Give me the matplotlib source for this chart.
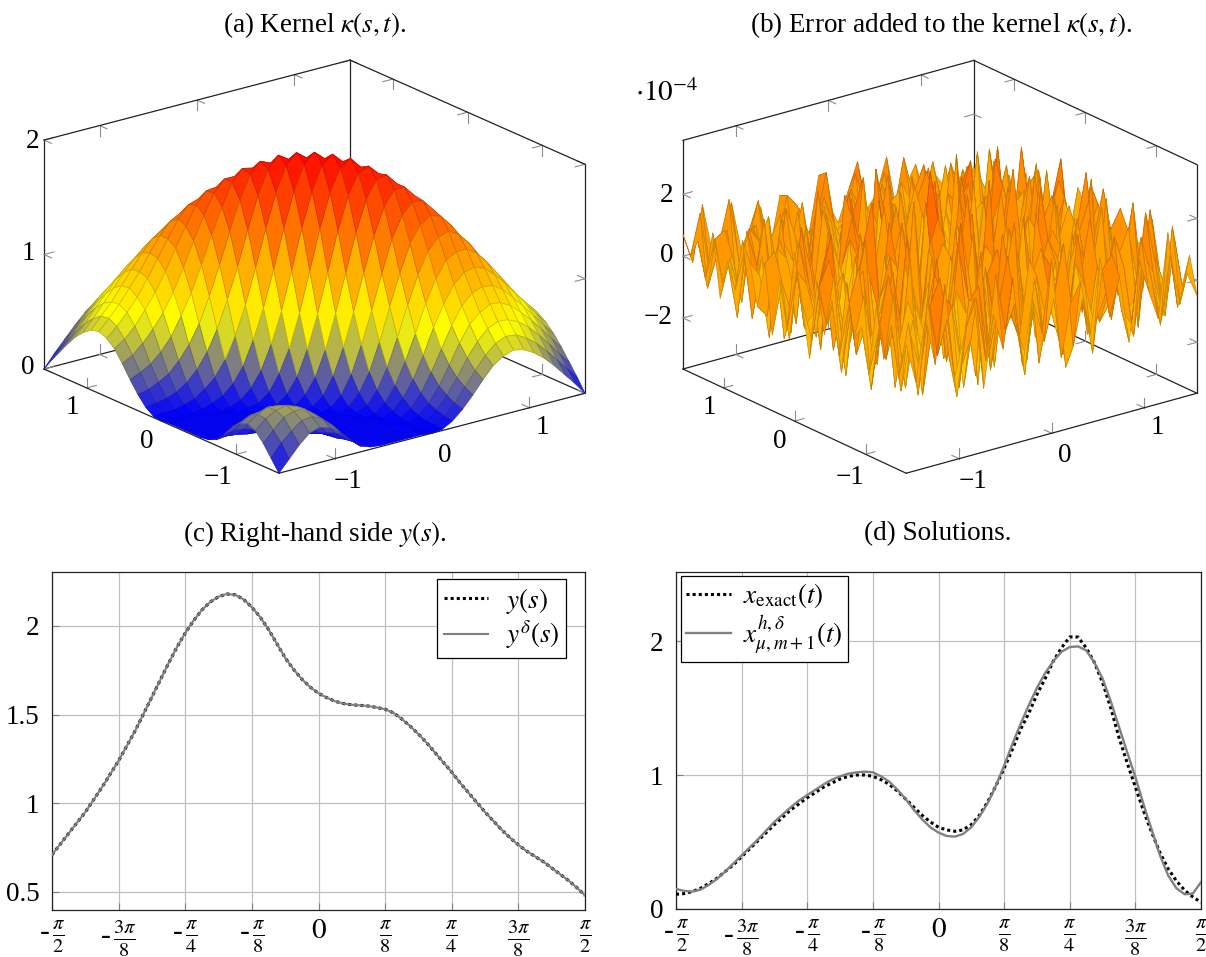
"""
plot.py
--------
Kernel, noise, right-hand side and solutions (four panels).
"""

import numpy as np
import matplotlib
matplotlib.use("Agg")
import matplotlib.pyplot as plt
from matplotlib.colors import LinearSegmentedColormap, Normalize
from mpl_toolkits.mplot3d import proj3d

plt.rcParams["font.family"] = "Liberation Serif"
plt.rcParams["mathtext.fontset"] = "stix"

FIG_W, FIG_H = 1206, 957
TXT = 19.5

# ----------------------------
# 1. Values
# ----------------------------
kernel_rows = [
    [0, .10, .20, .28, .31, .28, .22, .13, .05, .02, .01, .01, .01, .01, .01, 0, .01, .06, .14, .24, .35, .45, .51, .54, .52, .47, .40, .31, .21, .11, 0],
    [.10, .21, .29, .36, .37, .33, .25, .14, .06, .02, .01, .01, .01, .01, .01, 0, .02, .07, .16, .28, .40, .51, .59, .63, .62, .57, .50, .41, .31, .21, .11],
    [.20, .29, .38, .41, .41, .34, .25, .13, .05, .01, .01, .01, .01, .01, .01, 0, .02, .09, .20, .33, .48, .60, .69, .73, .72, .68, .61, .52, .42, .31, .21],
    [.28, .36, .41, .43, .40, .32, .22, .10, .03, .01, .01, .01, .01, .01, .01, 0, .04, .12, .25, .41, .58, .72, .80, .85, .84, .79, .71, .62, .52, .41, .31],
    [.31, .37, .41, .40, .34, .26, .15, .07, .02, .01, .01, .01, .01, .01, 0, .01, .07, .18, .34, .52, .70, .85, .94, .97, .96, .90, .81, .71, .61, .50, .40],
    [.28, .33, .34, .32, .26, .17, .09, .03, .01, .01, .01, .01, .01, .01, 0, .04, .13, .27, .46, .68, .86, 1.01, 1.09, 1.11, 1.08, 1.0, .90, .79, .68, .57, .47],
    [.22, .25, .25, .22, .15, .09, .03, .01, .01, .01, .01, .01, .01, 0, .01, .08, .21, .40, .62, .86, 1.05, 1.19, 1.24, 1.24, 1.18, 1.08, .96, .84, .72, .62, .52],
    [.13, .14, .13, .10, .07, .03, .01, .01, .01, .01, .01, .01, .01, .01, .05, .16, .34, .58, .84, 1.08, 1.26, 1.36, 1.39, 1.34, 1.24, 1.11, .97, .85, .73, .63, .54],
    [.05, .06, .05, .03, .02, .01, .01, .01, .01, .01, .01, .01, 0, .03, .13, .29, .53, .82, 1.09, 1.32, 1.46, 1.52, 1.49, 1.39, 1.24, 1.09, .94, .80, .69, .59, .51],
    [.02, .02, .01, .01, .01, .01, .01, .01, .01, .01, .01, 0, .02, .10, .26, .50, .78, 1.08, 1.36, 1.54, 1.63, 1.62, 1.52, 1.36, 1.19, 1.01, .85, .72, .60, .51, .45],
    [.01, .01, .01, .01, .01, .01, .01, .01, .01, .01, 0, .02, .09, .24, .47, .76, 1.08, 1.38, 1.61, 1.73, 1.73, 1.63, 1.46, 1.26, 1.05, .86, .70, .58, .48, .40, .35],
    [.01, .01, .01, .01, .01, .01, .01, .01, .01, 0, .02, .09, .22, .44, .74, 1.07, 1.40, 1.66, 1.81, 1.83, 1.73, 1.54, 1.32, 1.08, .86, .68, .52, .41, .33, .28, .24],
    [.01, .01, .01, .01, .01, .01, .01, .01, 0, .02, .09, .22, .44, .73, 1.07, 1.41, 1.69, 1.86, 1.90, 1.81, 1.61, 1.36, 1.09, .84, .62, .46, .34, .25, .20, .16, .14],
    [.01, .01, .01, .01, .01, .01, 0, .01, .03, .10, .24, .44, .73, 1.07, 1.42, 1.71, 1.90, 1.96, 1.86, 1.66, 1.38, 1.08, .82, .58, .40, .27, .18, .12, .09, .07, .06],
    [.01, .01, .01, .01, 0, 0, .01, .05, .13, .26, .47, .74, 1.07, 1.42, 1.71, 1.92, 1.99, 1.90, 1.69, 1.40, 1.08, .78, .53, .34, .21, .13, .07, .04, .02, .02, .01],
    [0, 0, 0, 0, .01, .04, .08, .16, .29, .50, .76, 1.07, 1.41, 1.71, 1.92, 2.0, 1.92, 1.71, 1.41, 1.07, .76, .50, .29, .16, .08, .04, .01, 0, 0, 0, 0],
    [.01, .02, .02, .04, .07, .13, .21, .34, .53, .78, 1.08, 1.40, 1.69, 1.90, 1.99, 1.92, 1.71, 1.42, 1.07, .74, .47, .26, .13, .05, .01, 0, 0, .01, .01, .01, .01],
    [.06, .07, .09, .12, .18, .27, .40, .58, .82, 1.08, 1.38, 1.66, 1.86, 1.96, 1.90, 1.71, 1.42, 1.07, .73, .44, .24, .10, .03, .01, 0, .01, .01, .01, .01, .01, .01],
    [.14, .16, .20, .25, .34, .46, .62, .84, 1.09, 1.36, 1.61, 1.81, 1.90, 1.86, 1.69, 1.41, 1.07, .73, .44, .22, .09, .02, 0, .01, .01, .01, .01, .01, .01, .01, .01],
    [.24, .28, .33, .41, .52, .68, .86, 1.08, 1.32, 1.54, 1.73, 1.83, 1.81, 1.66, 1.40, 1.07, .74, .44, .22, .09, .02, 0, .01, .01, .01, .01, .01, .01, .01, .01, .01],
    [.35, .40, .48, .58, .70, .86, 1.05, 1.26, 1.46, 1.63, 1.73, 1.73, 1.61, 1.38, 1.08, .76, .47, .24, .09, .02, 0, .01, .01, .01, .01, .01, .01, .01, .01, .01, .01],
    [.45, .51, .60, .72, .85, 1.01, 1.19, 1.36, 1.52, 1.62, 1.63, 1.54, 1.36, 1.08, .78, .50, .26, .10, .02, 0, .01, .01, .01, .01, .01, .01, .01, .01, .01, .02, .02],
    [.51, .59, .69, .80, .94, 1.09, 1.24, 1.39, 1.49, 1.52, 1.46, 1.32, 1.09, .82, .53, .29, .13, .03, 0, .01, .01, .01, .01, .01, .01, .01, .02, .03, .05, .06, .05],
    [.54, .63, .73, .85, .97, 1.11, 1.24, 1.34, 1.39, 1.36, 1.26, 1.08, .84, .58, .34, .16, .05, .01, .01, .01, .01, .01, .01, .01, .01, .03, .07, .10, .13, .14, .13],
    [.52, .62, .72, .84, .96, 1.08, 1.18, 1.24, 1.24, 1.19, 1.05, .86, .62, .40, .21, .08, .01, 0, .01, .01, .01, .01, .01, .01, .03, .09, .15, .22, .25, .25, .22],
    [.47, .57, .68, .79, .90, 1.0, 1.08, 1.11, 1.09, 1.01, .86, .68, .46, .27, .13, .04, 0, .01, .01, .01, .01, .01, .01, .03, .09, .17, .26, .32, .34, .33, .28],
    [.40, .50, .61, .71, .81, .90, .96, .97, .94, .85, .70, .52, .34, .18, .07, .01, 0, .01, .01, .01, .01, .01, .02, .07, .15, .26, .34, .40, .41, .37, .31],
    [.31, .41, .52, .62, .71, .79, .84, .85, .80, .72, .58, .41, .25, .12, .04, 0, .01, .01, .01, .01, .01, .01, .03, .10, .22, .32, .40, .43, .41, .36, .28],
    [.21, .31, .42, .52, .61, .68, .72, .73, .69, .60, .48, .33, .20, .09, .02, 0, .01, .01, .01, .01, .01, .01, .05, .13, .25, .34, .41, .41, .38, .29, .20],
    [.11, .21, .31, .41, .50, .57, .62, .63, .59, .51, .40, .28, .16, .07, .02, 0, .01, .01, .01, .01, .01, .02, .06, .14, .25, .33, .37, .36, .29, .21, .10],
    [0, .11, .21, .31, .40, .47, .52, .54, .51, .45, .35, .24, .14, .06, .01, 0, .01, .01, .01, .01, .01, .02, .05, .13, .22, .28, .31, .28, .20, .10, 0],
]

noise_rows = [
    [.5, -.8, 1.2, -.4, 2.1, -1.0, .3, 1.4, -1.6, .7, -.5, 1.7, -1.2, .9, -.3, 2.0, -1.3, .4, 1.0, -.8, 1.6, -.4, .8, -1.4, 1.2, .1, -.9, 1.8, -.7, .3, -.5],
    [-.7, 1.0, -1.4, 1.6, -.3, .8, -1.8, .4, 1.2, -.9, 1.8, -.1, .7, -1.7, 1.3, -.8, .5, 2.2, -1.2, .3, -1.6, 1.0, 1.4, -.5, -1.0, 1.7, .4, -1.3, .9, -.8, .7],
    [.9, -1.3, .4, -.8, 1.2, 2.0, -.7, -1.7, 1.0, 1.4, -1.0, .5, 2.1, -.4, -1.4, 1.2, -.3, .8, -2.0, 1.3, .4, -.9, -.1, 1.8, .7, -1.6, 1.0, .3, -1.2, 1.6, -.4],
    [-.3, 1.7, -.9, .7, -1.8, .3, 1.3, .8, -1.2, -.4, 2.3, -1.6, .1, 1.2, -.8, 1.6, -1.8, .5, .9, -.7, 2.0, -1.3, .8, -.3, 1.4, -1.0, -.5, 2.1, .4, -1.4, 1.0],
    [1.3, -.5, .8, -1.6, .4, -1.0, 1.8, -.1, .7, -2.1, .5, 1.3, -.9, 2.5, -.3, -1.3, .9, 1.7, -.4, -1.6, 1.0, .3, 2.2, -1.2, -.7, .8, 1.6, -1.7, 1.2, .1, -.8],
    [-1.0, .3, 2.0, -.4, 1.0, -1.4, -.3, 2.1, -1.3, .9, .1, -2.0, 1.4, -.5, .8, 2.6, -1.2, -.5, 1.3, .7, -2.1, 1.7, -.9, .4, 2.3, -1.4, .3, .9, -1.0, 1.8, -.3],
    [.4, -1.7, .5, 1.4, -.8, 2.2, -1.2, .7, .3, -.9, 2.1, .4, -2.5, 1.0, 1.7, -.7, .1, -1.4, 2.5, -.5, .8, -1.3, 1.6, .5, -1.7, 1.2, -.8, -.1, 2.0, -.9, 1.3],
    [-.1, 1.2, -1.0, .3, 1.7, -.5, .9, -2.0, 1.8, -.3, -1.2, 2.7, .5, -1.6, .7, -.9, 2.1, 1.0, -1.8, .3, 1.4, .7, -2.7, 1.8, -.1, -1.0, 2.2, -.7, .4, -1.6, .5],
    [1.6, -.8, .1, -1.3, .9, -2.2, 1.6, .4, -.7, 1.3, -1.7, .8, -.3, 2.0, -2.1, 1.2, -.4, 1.6, .1, -1.2, 2.9, -.8, .9, -1.0, 1.2, 2.1, -1.6, .5, -1.2, .8, .3],
    [-.9, .7, 1.8, -.7, -.1, 1.2, -.8, 2.3, -1.4, .5, 1.0, -.9, 2.2, -1.2, .3, 1.4, -2.6, .8, -.9, 2.0, -.5, .4, 1.3, -2.0, .3, -.4, 2.6, -1.3, .8, 1.4, -1.2],
    [.8, -1.6, .4, 1.0, -2.0, .5, 1.7, -.5, .8, -2.3, 1.6, .3, -1.3, .7, 3.0, -.8, 1.2, -.4, 1.8, -1.6, .9, -2.2, .1, 2.1, -.8, 1.3, -1.0, .4, 2.0, -.5, .9],
    [-.4, 1.4, -1.2, .8, 1.3, -1.6, .1, -1.0, 2.5, .4, -.8, 1.8, -1.8, 1.0, -.4, 1.3, -.7, 3.1, -1.4, .5, -.3, 1.6, 1.0, -1.2, 1.7, -2.1, .7, 2.5, -.9, .1, -1.4],
    [1.2, -.3, .7, -2.1, .5, 2.1, -.9, 1.4, -.4, -1.3, 2.9, -1.0, .4, 1.3, -2.2, .8, 2.0, -1.2, .3, 2.5, -1.7, .7, -.5, 2.6, -1.0, .5, 1.4, -1.8, .3, 1.2, -.4],
    [-1.4, .8, 1.6, -.5, -1.2, .9, .3, -2.2, 1.3, .8, -.5, -1.6, 2.6, -.7, 1.2, -1.3, .4, -.8, 2.2, -.9, .7, 2.9, -2.0, .1, .9, 1.7, -2.9, .8, -.7, 1.7, .5],
    [.3, -1.0, .9, 2.2, -.4, -1.4, 2.0, .5, -.8, 2.1, -2.0, 1.2, -.3, .8, 1.8, -2.5, 1.4, .4, -1.0, 1.6, -1.3, .5, 1.2, -.8, 2.3, -1.2, .3, 1.3, -1.3, .8, -.9],
    [1.8, -.7, -.3, 1.2, -1.7, .7, -.8, 1.3, 2.7, -1.6, .4, 1.7, -1.2, -.1, 3.2, -.5, -.9, 2.1, .7, -2.0, 1.0, -.4, 2.0, -1.4, .5, -.3, 2.2, -.8, 1.0, -1.6, .7],
    [-.8, 1.0, .5, -1.3, 1.4, .1, -2.5, .9, -.7, .3, 2.3, -.9, .8, -2.1, .5, 1.6, -.3, -1.6, 2.6, .3, -.8, 1.3, -2.3, .9, -.4, 2.0, -.9, .4, 1.6, -.5, 1.2],
    [.7, -1.3, 1.7, .3, -.9, 1.8, .8, -.4, -1.8, 1.4, -1.2, .5, 2.0, -.7, -1.4, 1.0, 2.5, -.8, .1, -1.2, 2.1, -1.7, .7, 1.7, -1.3, .8, .4, -2.0, .7, 2.1, -1.0],
    [-1.2, .4, -.7, 2.0, .5, -2.1, 1.3, -1.0, 1.2, .4, -3.0, 2.2, -.3, 1.0, .4, -1.8, .7, 1.4, -.9, 3.0, -.5, .3, -1.0, 2.5, .5, -1.4, 1.2, 1.6, -1.2, .1, .8],
    [1.0, 1.3, -1.6, -.1, .9, -.5, 2.2, -1.4, .3, 1.7, .7, -1.3, .9, -2.2, 2.1, -.1, -1.0, .8, 1.7, -1.4, .4, 1.8, -.7, -1.6, 2.7, -.4, .8, -1.2, 1.8, -.8, -.3],
    [-.5, -.9, 1.2, .8, -1.4, 1.6, -.4, .7, -1.7, 2.3, -.9, .3, 1.4, .5, -.8, 1.3, -2.1, 1.0, -.3, .7, -2.2, 1.2, 2.3, -.8, -.4, 1.3, -1.6, .9, .3, 1.4, -.8],
    [.8, .3, -1.8, 1.3, -.3, .4, -1.3, 2.5, .5, -.8, 1.3, -.5, -2.0, 2.7, .9, -1.2, .4, 1.8, -1.7, 1.2, .1, -.8, 1.6, -2.5, .7, 1.0, -.3, -.9, 2.1, -.4, .5],
    [1.4, -1.2, .7, -.8, 1.8, -2.0, 1.0, -.1, 1.6, -1.3, .5, 2.0, -.4, -1.0, .3, 2.2, -1.3, -.4, 1.2, 2.0, -1.0, .5, -.5, 1.3, .3, -1.8, 1.7, .7, -1.0, .4, -.7],
    [-.3, .9, -.4, 1.7, -1.0, .8, .1, -1.6, .9, .3, -2.1, .8, 1.6, -.7, -1.6, .5, 1.7, -2.0, .8, -.5, 1.4, -1.4, .9, .4, -.9, 2.0, -.7, .1, 1.3, -1.2, .9],
    [.5, -1.4, 1.3, .1, -.7, -1.2, 1.7, .7, -.5, 1.2, 1.4, -1.7, .3, 1.0, 2.0, -.8, .1, .9, -1.6, 1.6, .4, -.9, -1.6, 1.7, .7, -.5, -1.3, 1.8, -.3, .8, -.5],
    [-.8, .4, -.9, 1.2, .7, 1.4, -.9, -.3, 1.3, -1.8, .4, .9, -1.0, 1.4, -.5, -1.4, 1.2, .3, .7, -1.0, .9, 1.7, .3, -.8, -.1, 1.2, .5, -1.0, .9, -.4, .1],
    [1.2, -.5, .3, -1.3, 1.0, -.4, .5, 1.2, -1.3, .7, -.7, 1.3, .4, -1.2, .8, .3, -.8, 1.4, -.5, .1, -1.3, .5, 1.0, -.4, 1.3, -.9, .7, .3, -.8, 1.0, -.3],
    [-.4, .8, 1.0, -.7, -.3, .9, -1.4, .4, .8, -.3, 1.2, -.8, .7, .3, -1.0, 1.2, .5, -.9, 1.0, .4, .7, -.7, -.3, 1.2, -.5, .4, -.3, .9, .1, -.7, .4],
    [.7, -.9, .1, .8, -1.2, .3, .7, -.8, .4, .9, -.9, .3, -.4, 1.0, .1, -.7, .8, -.3, -.8, .9, -.4, .8, .1, -.9, .5, -.1, .8, -.5, .4, .3, -.4],
    [.1, 1.4, -.7, .3, 1.6, -.5, .1, 1.3, -.7, -.1, 1.2, .8, -.5, .1, 1.6, -.4, -.1, 1.3, .3, -.5, 1.1, -.3, 1.4, .1, -.4, 1.0, -.5, .3, -.1, .4, -.3],
    [.7, -.3, 1.5, -.1, -.4, 1.3, -.3, .4, .9, -.5, 1.1, -.1, .5, -.4, 1.4, .4, -.3, .6, 1.5, -.1, .3, 1.4, -.4, .3, .9, -.3, .4, -.1, .3, -.1, .3],
]

y_exact = [.71, .77, .83, .89, .95, 1.02, 1.09, 1.165, 1.24, 1.325, 1.41, 1.505, 1.60, 1.695, 1.79, 1.88, 1.96, 2.03, 2.09, 2.135, 2.165, 2.18, 2.175, 2.15, 2.105, 2.05, 1.98, 1.90, 1.82, 1.755, 1.70, 1.655, 1.62,
           1.595, 1.575, 1.562, 1.555, 1.552, 1.548, 1.54, 1.53, 1.51, 1.475, 1.435, 1.39, 1.34, 1.285, 1.23, 1.175, 1.115, 1.06, 1.005, .95, .90, .85, .805, .765, .73, .70, .67, .635, .60, .565, .525, .48]
y_noisy = [.71, .77, .83, .89, .95, 1.02, 1.09, 1.165, 1.24, 1.325, 1.41, 1.505, 1.60, 1.695, 1.79, 1.88, 1.96, 2.03, 2.09, 2.135, 2.165, 2.18, 2.175, 2.15, 2.105, 2.05, 1.98, 1.90, 1.82, 1.755, 1.70, 1.655, 1.62,
           1.595, 1.575, 1.562, 1.555, 1.552, 1.548, 1.54, 1.53, 1.51, 1.475, 1.435, 1.39, 1.34, 1.285, 1.23, 1.175, 1.115, 1.06, 1.005, .95, .90, .85, .805, .765, .73, .70, .67, .635, .60, .565, .525, .48]
x_exact = [.11, .115, .13, .155, .19, .23, .28, .33, .39, .45, .51, .57, .63, .685, .74, .785, .83, .87, .91, .94, .97, .99, 1.0, 1.0, .99, .965, .93, .88, .82, .76, .70, .65, .61,
           .59, .58, .59, .63, .70, .80, .92, 1.05, 1.19, 1.34, 1.46, 1.60, 1.72, 1.85, 1.95, 2.03, 2.03, 1.95, 1.84, 1.69, 1.50, 1.28, 1.09, .91, .73, .57, .42, .30, .21, .14, .09, .05]
x_reg = [.15, .135, .13, .145, .18, .225, .28, .34, .40, .46, .52, .585, .65, .705, .76, .81, .85, .89, .93, .965, .99, 1.01, 1.02, 1.025, 1.02, .99, .95, .89, .82, .74, .67, .61, .57,
         .545, .54, .56, .61, .69, .79, .92, 1.07, 1.23, 1.38, 1.52, 1.65, 1.76, 1.85, 1.92, 1.955, 1.96, 1.93, 1.84, 1.72, 1.55, 1.36, 1.17, .985, .78, .59, .40, .25, .155, .11, .115, .2]

frac_ticks = [-np.pi/2, -3*np.pi/8, -np.pi/4, -np.pi/8, 0, np.pi/8, np.pi/4, 3*np.pi/8, np.pi/2]
frac_labels = [r"-$\,\frac{\pi}{2}$", r"-$\,\frac{3\pi}{8}$", r"-$\,\frac{\pi}{4}$", r"-$\,\frac{\pi}{8}$", "$0$",
               r"$\frac{\pi}{8}$", r"$\frac{\pi}{4}$", r"$\frac{3\pi}{8}$", r"$\frac{\pi}{2}$"]

hot = LinearSegmentedColormap.from_list("hot3", ["#0000ff", "#ffff00", "#ff8000", "#ff0000"])
warm = LinearSegmentedColormap.from_list("warm", ["#ffff00", "#ff5a00"])

fig = plt.figure(figsize=(FIG_W/100, FIG_H/100), dpi=100)


def label(px, py, s, size=TXT):
    fig.text(px/FIG_W, 1 - py/FIG_H, s, fontsize=size, ha="center", va="center", color="black")


# ----------------------------
# 2. 3D panels
# ----------------------------
def corner_px(ax, x, y, z):
    px, py, _ = proj3d.proj_transform(x, y, z, ax.get_proj())
    d = ax.transData.transform((px, py))
    return d[0], FIG_H - d[1]


def surface_panel(values, cmap, norm, zlim, elev, zaspect, left_px, right_px, z_ticks, z_len):
    ax = fig.add_axes([0, 0, 800/FIG_W, 800/FIG_H], projection="3d", proj_type="ortho")
    ax.set_axis_off()
    ax.patch.set_visible(False)
    ax.computed_zorder = False
    ax.view_init(elev=elev, azim=-127.5)
    ax.set_box_aspect((1, 1, zaspect))
    lo, hi = -np.pi/2, np.pi/2
    ax.set_xlim(lo, hi, view_margin=0)
    ax.set_ylim(lo, hi, view_margin=0)
    ax.set_zlim(zlim[0], zlim[1], view_margin=0)

    z = np.array(values, dtype=float)
    s = np.linspace(lo, hi, z.shape[0])
    xx, yy = np.meshgrid(s, s)
    mean = (z[:-1, :-1] + z[1:, :-1] + z[:-1, 1:] + z[1:, 1:]) / 4
    face = cmap(norm(mean))
    edge = face.copy()
    edge[..., :3] *= 0.8
    surf = ax.plot_surface(xx, yy, z, rstride=1, cstride=1, facecolors=face, shade=False,
                           linewidth=0.5, antialiased=True, zorder=2)
    surf.set_edgecolors(edge.reshape(-1, 4))

    z0, z1 = zlim
    box = "#222222"
    # back edges behind the surface
    for p, q in [((hi, hi, z0), (lo, hi, z0)), ((hi, hi, z0), (hi, lo, z0)), ((hi, hi, z0), (hi, hi, z1)),
                 ((lo, hi, z0), (lo, hi, z1)), ((hi, lo, z0), (hi, lo, z1))]:
        ax.plot(*zip(p, q), color=box, lw=0.9, zorder=1)
    # top edges and front edges
    for p, q in [((lo, hi, z1), (hi, hi, z1)), ((hi, hi, z1), (hi, lo, z1)),
                 ((lo, hi, z0), (lo, lo, z0)), ((lo, lo, z0), (hi, lo, z0))]:
        ax.plot(*zip(p, q), color=box, lw=0.9, zorder=3)

    # tick marks, two short strokes per edge
    t = 0.1
    tick = dict(color="#8c8c8c", lw=0.8, zorder=1)
    for v in [-1, 0, 1]:
        for y0, z_0, dy, dz in [(lo, z0, t, z_len), (hi, z0, -t, z_len), (hi, z1, -t, -z_len)]:
            ax.plot([v, v], [y0, y0 + dy], [z_0, z_0], **tick)
            ax.plot([v, v], [y0, y0], [z_0, z_0 + dz], **tick)
        for x0, z_0, dx, dz in [(lo, z0, t, z_len), (hi, z0, -t, z_len), (hi, z1, -t, -z_len)]:
            ax.plot([x0, x0 + dx], [v, v], [z_0, z_0], **tick)
            ax.plot([x0, x0], [v, v], [z_0, z_0 + dz], **tick)
    for v in z_ticks:
        for x0, y0, dx, dy in [(lo, hi, t, -t), (hi, lo, -t, t), (hi, hi, -t, -t)]:
            ax.plot([x0, x0 + dx], [y0, y0], [v, v], **tick)
            ax.plot([x0, x0], [y0, y0 + dy], [v, v], **tick)

    # scale and shift the axes so the box lands on the wanted pixels
    ax.apply_aspect()
    a = corner_px(ax, lo, hi, z0)
    b = corner_px(ax, hi, lo, z0)
    size = 800 * (right_px[0] - left_px[0]) / (b[0] - a[0])
    ax.set_position([0, 0, size/FIG_W, size/FIG_H])
    ax.apply_aspect()
    a = corner_px(ax, lo, hi, z0)
    ax.set_position([(left_px[0] - a[0])/FIG_W, (a[1] - left_px[1])/FIG_H, size/FIG_W, size/FIG_H])
    return ax


surface_panel(kernel_rows, hot, Normalize(0, 2), (0, 2), 19.9, 0.631, (44, 369), (585, 393), [0, 1, 2], 0.09)
surface_panel(noise_rows, warm, Normalize(-2.0, 1.8), (-3.65, 3.74), 21.0, 0.668, (683, 369), (1197, 393),
              [-2, 0, 2], 0.33)

for px, py, s in [(33, 141, "2"), (28, 254, "1"), (28, 367, "0"), (72, 408, "1"), (147, 441, "0"),
                  (218, 478, "\u22121"), (348, 482, "\u22121"), (445, 455, "0"), (542, 428, "1"),
                  (667, 195, "2"), (667, 256, "0"), (658, 318, "\u22122"), (709, 408, "1"), (780, 441, "0"),
                  (850, 478, "\u22121"), (973, 482, "\u22121"), (1065, 455, "0"), (1157, 428, "1")]:
    label(px, py, s)
label(667, 93, r"$\cdot 10^{-4}$", 21)

label(315, 25, r"(a) Kernel $\kappa(s, t)$.")
label(941, 25, r"(b) Error added to the kernel $\kappa(s, t)$.")
label(315, 534, r"(c) Right-hand side $y(s)$.")
label(938, 534, "(d) Solutions.")


# ----------------------------
# 3. Line panels
# ----------------------------
def line_panel(box, ylim, yticks, ylabels):
    x0, y0, x1, y1 = box
    ax = fig.add_axes([x0/FIG_W, 1 - y1/FIG_H, (x1 - x0)/FIG_W, (y1 - y0)/FIG_H])
    ax.set_xlim(-np.pi/2, np.pi/2)
    ax.set_ylim(*ylim)
    ax.set_xticks(frac_ticks)
    ax.set_xticklabels(frac_labels, fontsize=21)
    ax.set_yticks(yticks)
    ax.set_yticklabels(ylabels, fontsize=TXT)
    ax.grid(True, color="#c0c0c0", lw=0.9)
    ax.set_axisbelow(True)
    ax.tick_params(axis="both", direction="in", length=5, width=0.8, color="#808080", pad=6)
    ax.tick_params(axis="y", pad=9)
    for sp in ax.spines.values():
        sp.set_linewidth(0.9)
        sp.set_color("#222222")
    return ax


t_axis = np.linspace(-np.pi/2, np.pi/2, len(y_exact))

ax_c = line_panel((52, 572, 585, 910), (.398, 2.304), [.5, 1, 1.5, 2], ["0.5", "1", "1.5", "2"])
ax_c.plot(t_axis, y_exact, color="black", lw=2.2, ls=(0, (1, 1)), label=r"$y(s)$", zorder=3)
ax_c.plot(t_axis, y_noisy, color="#808080", lw=1.5, label=r"$y^{\delta}(s)$", zorder=4)
ax_c.legend(loc="upper left", bbox_to_anchor=((437 - 52)/533, 1 - 7/338), borderaxespad=0,
            fancybox=False, framealpha=1, edgecolor="black", fontsize=TXT, handlelength=1.65,
            labelspacing=0.1, handletextpad=0.65, borderpad=0.25).get_frame().set_linewidth(0.9)

ax_d = line_panel((676, 572, 1201, 909), (0, 2.515), [0, 1, 2], ["0", "1", "2"])
ax_d.plot(t_axis, x_exact, color="black", lw=2.2, ls=(0, (1, 1)), label=r"$x_{\mathrm{exact}}(t)$", zorder=3)
ax_d.plot(t_axis, x_reg, color="#808080", lw=1.7, label=r"$x_{\mu,m+1}^{h,\delta}(t)$", zorder=4)
ax_d.legend(loc="upper left", bbox_to_anchor=((681 - 676)/525, 1 - 4/337), borderaxespad=0,
            fancybox=False, framealpha=1, edgecolor="black", fontsize=TXT, handlelength=1.65,
            labelspacing=0.1, handletextpad=0.45, borderpad=0.2).get_frame().set_linewidth(0.9)

fig.savefig("out.png", dpi=100)
